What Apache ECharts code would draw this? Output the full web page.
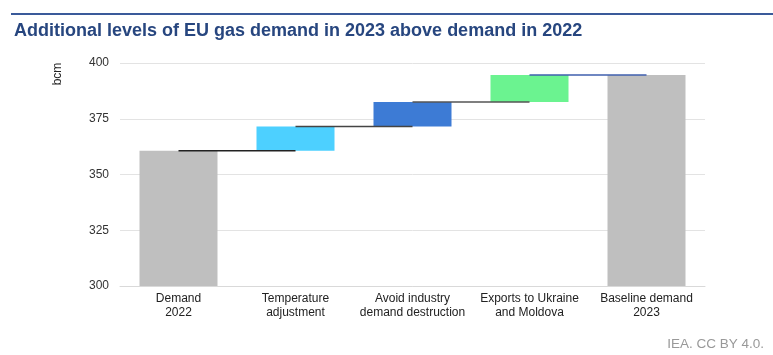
<!DOCTYPE html>
<html>
<head>
<meta charset="utf-8">
<script src="https://cdn.jsdelivr.net/npm/echarts@6/dist/echarts.min.js"></script>
<style>
html,body{margin:0;padding:0;background:#fff;}
#c{width:773px;height:355px;}
</style>
</head>
<body>
<div id="c"></div>
<script>
const categories = ['Demand\n2022', 'Temperature\nadjustment', 'Avoid industry\ndemand destruction', 'Exports to Ukraine\nand Moldova', 'Baseline demand\n2023'];
const startValue = 360.6;
const deltas = [10.9, 11.0, 12.1];
const endValue = 394.6;
const yTicks = [300, 325, 350, 375, 400];
const barColors = ['#bfbfbf', '#4dd0ff', '#3d7bd5', '#6bf390', '#bfbfbf'];
const connectorColors = ['#222222', '#444444', '#555555', '#3f5fae'];

// Build waterfall: transparent base + visible segment
const levels = [startValue];
deltas.forEach(d => levels.push(levels[levels.length - 1] + d));
const baseData = ['-'];
const segData = [startValue];
deltas.forEach((d, i) => { baseData.push(levels[i]); segData.push(d); });
baseData.push('-');
segData.push(endValue);
levels.push(endValue);

const F = "'Liberation Sans', Arial, sans-serif";
const series = [
  { type: 'bar', stack: 'w', data: baseData, itemStyle: { color: 'transparent' }, barWidth: 78, silent: true },
  { type: 'bar', stack: 'w', barWidth: 78,
    data: segData.map((v, i) => ({ value: v, itemStyle: { color: barColors[i] } })) }
];
for (let i = 0; i < 4; i++) {
  const lv = levels[i];
  const d = categories.map(() => '-');
  d[i] = lv; d[i + 1] = lv;
  series.push({ type: 'line', data: d, symbol: 'none', z: 5,
    lineStyle: { color: connectorColors[i], width: 1.5 }, connectNulls: false });
}

const chart = echarts.init(document.getElementById('c'), null, { renderer: 'canvas' });
chart.setOption({
  animation: false,
  backgroundColor: '#fff',
  grid: { left: 120, right: 68, top: 63, bottom: 69 },
  xAxis: {
    type: 'category', data: categories,
    axisTick: { show: false },
    axisLine: { lineStyle: { color: '#d9d9d9' } },
    axisLabel: { color: '#222', fontSize: 12, fontFamily: F, lineHeight: 14, margin: 6, interval: 0 }
  },
  yAxis: {
    type: 'value', min: yTicks[0], max: yTicks[yTicks.length - 1], interval: 25,
    axisLine: { show: false }, axisTick: { show: false },
    axisLabel: { color: '#333', fontSize: 12, fontFamily: F, margin: 11 },
    splitLine: { lineStyle: { color: '#e3e3e3' } }
  },
  series: series,
  graphic: [
    { type: 'rect', shape: { x: 11, y: 13, width: 762, height: 2 }, style: { fill: '#3a5a9a' } },
    { type: 'text', left: 14, top: 22, style: { text: 'Additional levels of EU gas demand in 2023 above demand in 2022', font: 'bold 18px ' + F, fill: '#27467f' } },
    { type: 'text', x: 58, y: 74, rotation: Math.PI / 2, style: { text: 'bcm', font: '12px ' + F, fill: '#222', align: 'center', verticalAlign: 'middle' } },
    { type: 'text', right: 9, top: 337, style: { text: 'IEA. CC BY 4.0.', font: '13.5px ' + F, fill: '#999' } }
  ]
});
</script>
</body>
</html>
